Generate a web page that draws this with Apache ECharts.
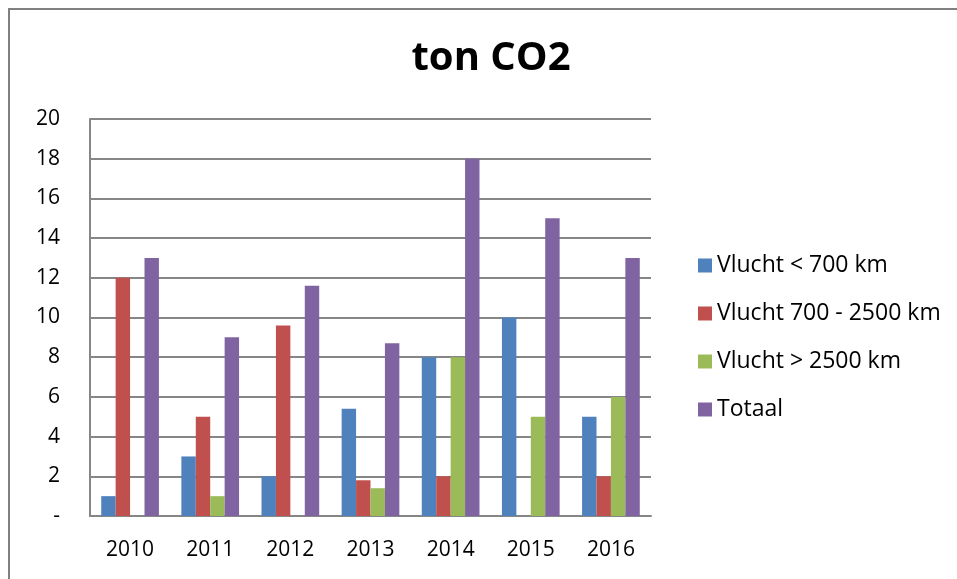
<!DOCTYPE html>
<html>
<head>
<meta charset="utf-8">
<script src="https://cdn.jsdelivr.net/npm/echarts@6/dist/echarts.min.js"></script>
<style>
  html, body { margin: 0; padding: 0; background: #fff; }
  #chart { width: 957px; height: 579px; }
</style>
</head>
<body>
<div id="chart"></div>
<script>
// jaren en waarden (ton CO2)
var years = ['2010', '2011', '2012', '2013', '2014', '2015', '2016'];
var vluchtKort = [1, 3, 2, 5.4, 8, 10, 5];
var vluchtMidden = [12, 5, 9.6, 1.8, 2, 0, 2];
var vluchtLang = [0, 1, 0, 1.4, 8, 5, 6];
var totaal = [13, 9, 11.6, 8.7, 18, 15, 13];
var seriesNames = ['Vlucht < 700 km', 'Vlucht 700 - 2500 km', 'Vlucht > 2500 km', 'Totaal'];

var chart = echarts.init(document.getElementById('chart'));
var font = '"Open Sans", "Liberation Sans", sans-serif';

function bar(name, data, color) {
  return {
    name: name,
    type: 'bar',
    data: data,
    barGap: '0%',
    barCategoryGap: '28%',
    itemStyle: { color: color },
    emphasis: { disabled: true }
  };
}

chart.setOption({
  animation: false,
  textStyle: { fontFamily: font },
  title: {
    text: 'ton CO2',
    left: 486,
    top: 34,
    textAlign: 'center',
    textStyle: { fontSize: 40, fontWeight: 'bold', color: '#000', fontFamily: font }
  },
  graphic: [{
    type: 'rect',
    shape: { x: 9, y: 9, width: 960, height: 580 },
    style: { fill: 'none', stroke: '#808080', lineWidth: 2 },
    silent: true
  }],
  legend: {
    orient: 'vertical',
    left: 693,
    top: 249,
    itemWidth: 14,
    itemHeight: 14,
    itemGap: 25,
    icon: 'rect',
    data: seriesNames,
    textStyle: { fontSize: 23, color: '#000', fontFamily: font }
  },
  grid: { left: 90, top: 119, width: 561, height: 397 },
  xAxis: {
    type: 'category',
    data: years,
    axisLine: { lineStyle: { color: '#868686', width: 2 } },
    axisTick: { show: false },
    axisLabel: { fontSize: 21, color: '#000', margin: 24 }
  },
  yAxis: {
    type: 'value',
    min: 0,
    max: 20,
    interval: 2,
    axisLine: { show: true, lineStyle: { color: '#868686', width: 2 } },
    axisTick: { show: false },
    splitLine: { lineStyle: { color: '#868686', width: 2 } },
    axisLabel: {
      fontSize: 21,
      color: '#000',
      margin: 30,
      align: 'right',
      formatter: function (v) { return v === 0 ? '-' : String(v); }
    }
  },
  series: [
    bar(seriesNames[0], vluchtKort, '#4f81bd'),
    bar(seriesNames[1], vluchtMidden, '#c0504d'),
    bar(seriesNames[2], vluchtLang, '#9bbb59'),
    bar(seriesNames[3], totaal, '#8064a2')
  ]
});
</script>
</body>
</html>
